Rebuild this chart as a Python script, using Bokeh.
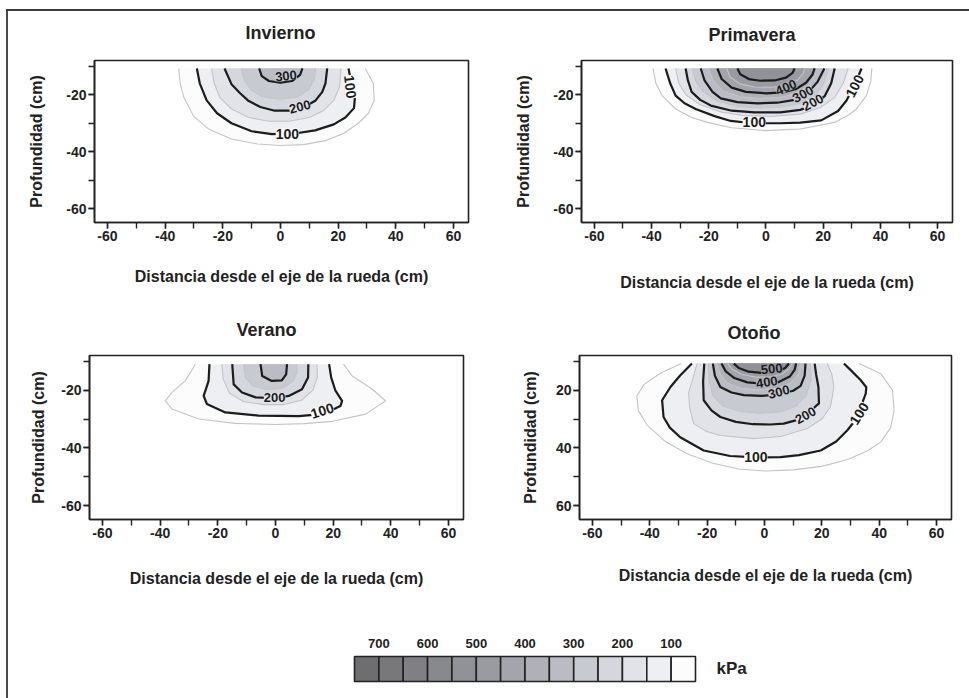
from bokeh.plotting import figure
from bokeh.models import Range1d, FixedTicker, Label, Div, Spacer, Title
from bokeh.layouts import row, column
from bokeh.embed import file_html
from bokeh.resources import INLINE
from bokeh.core.properties import value

FONT = "Liberation Sans"

# ---------------- axes ----------------
x_major = [-60, -40, -20, 0, 20, 40, 60]
x_major_text = ["-60", "-40", "-20", "0", "20", "40", "60"]
x_minor = [-60, -50, -40, -30, -20, -10, 0, 10, 20, 30, 40, 50, 60]
y_major = [-60, -40, -20]
y_major_text = ["-60", "-40", "-20"]
y_major_text_otono = ["60", "40", "20"]
y_minor = [-60, -50, -40, -30, -20, -10]
x_title = "Distancia desde el eje de la rueda (cm)"
y_title = "Profundidad (cm)"

# ---------------- pressure classes (kPa) ----------------
levels = [50, 100, 150, 200, 250, 300, 350, 400, 450, 500, 550, 600, 650, 700]
level_colors = ["#fcfcfd", "#eeeff3", "#e2e3e9", "#d5d7de", "#c8cad2", "#babcc5",
                "#afb0b8", "#a4a5ac", "#9a9ba1", "#919297", "#88898d", "#808084",
                "#78787b", "#6e6e70"]
legend_labels = ["700", "600", "500", "400", "300", "200", "100"]

# ---------------- Invierno contours ----------------
inv50_x = [-35.3, -34.8, -33.5, -30.2, -25.0, -17.0, -8.0, 0.0, 8.0, 16.0, 22.0, 27.0, 30.5, 32.5, 32.2, 29.4]
inv50_y = [-10.8, -16.0, -21.0, -27.5, -32.0, -35.5, -37.3, -37.8, -37.5, -36.0, -33.5, -30.0, -26.5, -22.0, -16.0, -10.8]
inv100_x = [-29.0, -28.0, -25.6, -22.0, -17.0, -10.0, -3.0, 5.0, 12.0, 18.5, 22.5, 25.5, 25.8, 24.8, 23.6]
inv100_y = [-10.8, -16.0, -22.0, -26.5, -30.0, -32.8, -33.8, -33.6, -32.5, -30.4, -28.0, -24.7, -21.0, -17.0, -10.8]
inv150_x = [-23.9, -23.0, -21.0, -17.0, -11.0, -4.0, 3.0, 10.0, 15.0, 18.5, 20.5, 21.0]
inv150_y = [-10.8, -16.0, -21.0, -25.0, -28.0, -29.3, -29.3, -28.0, -25.5, -22.0, -17.0, -10.8]
inv200_x = [-19.4, -17.0, -14.0, -11.3, -7.0, -2.0, 3.0, 8.0, 12.2, 14.5, 15.6, 16.2]
inv200_y = [-10.8, -16.3, -19.5, -22.0, -24.3, -25.6, -25.6, -24.5, -22.0, -19.0, -16.0, -10.8]
inv250_x = [-13.6, -12.5, -10.0, -6.0, 0.0, 6.0, 10.0, 11.8, 12.2]
inv250_y = [-10.8, -15.0, -18.5, -20.8, -21.6, -20.8, -18.0, -14.5, -10.8]
inv300_x = [-7.4, -6.5, -4.0, 0.0, 4.0, 6.8, 7.6]
inv300_y = [-10.8, -13.5, -15.2, -15.8, -15.2, -13.0, -10.8]
inv_lab_x = [2.4, 24.2, 6.7, 1.9]
inv_lab_y = [-33.6, -17.2, -24.2, -13.4]
inv_lab_t = ["100", "100", "200", "300"]
inv_lab_a = [0.0, -1.45, 0.25, 0.1]

# ---------------- Primavera contours ----------------
pri50_x = [-39.5, -38.5, -36.3, -31.6, -26.0, -20.5, -12.0, 0.0, 12.0, 24.0, 29.0, 31.6, 35.1, 36.6, 37.0]
pri50_y = [-10.8, -16.0, -20.3, -25.0, -28.0, -29.7, -31.6, -32.6, -32.0, -29.7, -27.0, -25.0, -20.3, -15.5, -10.8]
pri100_x = [-35.1, -33.5, -31.6, -28.5, -24.6, -18.0, -12.3, -5.0, 5.0, 12.0, 19.3, 25.2, 28.1, 31.0, 33.4]
pri100_y = [-10.8, -16.0, -20.3, -23.0, -25.0, -27.5, -29.2, -30.0, -30.0, -29.8, -29.0, -25.7, -22.1, -16.5, -10.8]
pri150_x = [-31.6, -30.5, -28.0, -23.0, -16.0, -8.0, 2.0, 12.0, 19.0, 24.0, 27.0, 28.7]
pri150_y = [-10.8, -16.0, -20.0, -23.5, -26.0, -27.3, -27.6, -26.8, -24.5, -21.0, -16.0, -10.8]
pri200_x = [-28.1, -27.3, -26.0, -23.0, -19.3, -12.0, -4.0, 5.0, 12.0, 17.0, 20.5, 22.8, 24.0]
pri200_y = [-10.8, -15.0, -19.0, -21.8, -23.8, -25.6, -26.2, -26.2, -25.3, -23.5, -20.5, -16.0, -10.8]
pri250_x = [-25.7, -24.7, -22.0, -17.0, -10.0, -2.0, 6.0, 12.0, 17.0, 20.0, 22.0]
pri250_y = [-10.8, -15.0, -19.0, -22.3, -24.0, -24.6, -24.3, -23.0, -20.5, -16.5, -10.8]
pri300_x = [-22.8, -21.5, -18.7, -15.8, -10.0, -3.0, 4.0, 10.0, 14.5, 18.0, 20.4]
pri300_y = [-10.8, -15.0, -19.0, -21.3, -22.6, -23.0, -22.8, -21.8, -19.5, -15.5, -10.8]
pri350_x = [-20.0, -18.5, -15.0, -9.0, -2.0, 5.0, 10.0, 14.5, 17.0, 18.0]
pri350_y = [-10.8, -15.0, -18.8, -20.7, -21.3, -21.0, -19.6, -17.0, -13.5, -10.8]
pri400_x = [-17.0, -15.5, -12.0, -7.0, 0.0, 6.0, 10.5, 14.0, 16.2, 17.0]
pri400_y = [-10.8, -14.5, -17.5, -19.0, -19.5, -19.2, -18.0, -15.8, -13.0, -10.8]
pri450_x = [-13.7, -12.5, -9.0, -4.0, 2.0, 7.0, 11.0, 13.0, 13.5]
pri450_y = [-10.8, -13.8, -16.2, -17.3, -17.4, -16.6, -14.8, -12.5, -10.8]
pri500_x = [-10.0, -9.0, -6.0, -2.0, 3.0, 7.0, 9.3, 10.0]
pri500_y = [-10.8, -12.8, -14.5, -15.1, -15.0, -14.0, -12.3, -10.8]
pri_lab_x = [-4.1, 31.0, 16.4, 12.9, 7.0]
pri_lab_y = [-29.7, -16.9, -22.7, -19.8, -17.4]
pri_lab_t = ["100", "100", "200", "300", "400"]
pri_lab_a = [0.0, 1.1, 0.5, 0.5, 0.4]

# ---------------- Verano contours ----------------
ver50_x = [-27.8, -31.3, -35.9, -38.2, -35.9, -26.6, -14.0, 0.0, 10.0, 19.7, 31.3, 38.2, 33.6, 26.6, 23.6]
ver50_y = [-11.0, -16.8, -20.8, -23.7, -26.5, -30.0, -31.5, -31.9, -31.6, -30.8, -28.3, -23.7, -19.7, -15.1, -11.0]
ver100_x = [-22.9, -23.2, -24.9, -23.8, -17.4, -5.8, 8.1, 17.0, 22.5, 23.1, 20.8, 19.3, 18.6]
ver100_y = [-11.0, -16.8, -22.0, -24.8, -27.7, -28.8, -29.0, -28.2, -25.5, -23.7, -20.2, -15.6, -11.0]
ver150_x = [-18.6, -18.2, -16.0, -11.0, -4.0, 3.0, 9.0, 13.0, 14.5, 14.4]
ver150_y = [-11.0, -16.0, -21.0, -24.0, -25.0, -25.0, -23.5, -20.0, -15.5, -11.0]
ver200_x = [-15.0, -14.5, -11.6, -6.9, -0.3, 4.6, 9.2, 11.3, 11.4]
ver200_y = [-11.0, -18.0, -20.8, -22.5, -22.8, -22.0, -19.7, -15.6, -11.0]
ver250_x = [-11.0, -10.5, -8.0, -3.0, 2.0, 6.0, 7.4, 7.4]
ver250_y = [-11.0, -15.5, -18.5, -19.8, -19.5, -17.0, -14.0, -11.0]
ver300_x = [-5.2, -4.6, -1.3, 2.2, 3.7, 4.0]
ver300_y = [-11.0, -15.1, -16.8, -16.6, -14.5, -11.0]
ver_lab_x = [-0.3, 16.2]
ver_lab_y = [-22.6, -27.1]
ver_lab_t = ["200", "100"]
ver_lab_a = [0.0, 0.3]

# ---------------- Otoño contours ----------------
oto50_x = [-29.0, -36.0, -42.0, -44.5, -44.0, -41.0, -35.0, -27.0, -18.0, -9.0, 0.0, 10.0, 20.0, 29.0, 36.0, 40.5, 44.0, 45.2, 44.6, 40.5, 33.0]
oto50_y = [-10.8, -14.0, -18.0, -22.0, -27.0, -32.0, -37.5, -42.0, -45.3, -47.3, -48.0, -47.6, -46.4, -44.0, -41.0, -38.0, -33.0, -27.0, -20.0, -14.2, -10.8]
oto100_x = [-25.3, -29.5, -32.8, -35.7, -35.2, -33.0, -29.4, -21.2, -12.0, -3.0, 5.6, 12.0, 19.6, 25.0, 28.9, 32.0, 35.3, 35.5, 33.5, 30.5, 27.7]
oto100_y = [-10.8, -15.0, -18.9, -23.5, -29.3, -33.0, -36.3, -40.9, -42.8, -43.3, -43.2, -42.5, -40.9, -37.8, -33.9, -30.0, -21.2, -19.0, -16.5, -13.5, -10.8]
oto150_x = [-23.5, -25.0, -26.5, -26.0, -24.7, -20.5, -15.4, -3.7, 6.0, 14.9, 20.0, 23.0, 24.2, 23.5, 21.9]
oto150_y = [-10.8, -16.0, -21.0, -26.5, -31.6, -34.2, -35.7, -36.8, -36.0, -33.3, -30.0, -25.8, -18.9, -14.5, -10.8]
oto200_x = [-21.0, -21.4, -21.2, -18.5, -15.4, -10.0, -4.0, 2.0, 6.7, 11.5, 14.3, 19.0, 18.8, 18.0, 17.5]
oto200_y = [-10.8, -17.0, -23.5, -27.0, -29.3, -31.0, -31.8, -31.9, -31.6, -30.3, -28.7, -24.6, -18.9, -14.5, -10.8]
oto250_x = [-19.5, -19.3, -18.0, -14.5, -8.0, -1.0, 6.0, 11.0, 14.5, 16.2, 16.0]
oto250_y = [-10.8, -17.0, -22.0, -25.5, -27.5, -28.0, -27.5, -25.5, -22.0, -16.5, -10.8]
oto300_x = [-18.0, -17.3, -15.4, -11.5, -7.2, -1.0, 5.0, 10.0, 12.6, 14.0, 14.3]
oto300_y = [-10.8, -15.0, -18.9, -20.8, -21.7, -22.0, -21.5, -20.2, -18.5, -15.0, -10.8]
oto350_x = [-16.5, -15.5, -13.0, -8.0, -2.0, 4.0, 9.0, 11.8, 12.6]
oto350_y = [-10.8, -14.5, -17.5, -19.4, -19.9, -19.4, -17.5, -14.5, -10.8]
oto400_x = [-15.0, -13.5, -10.5, -6.0, 0.0, 5.0, 8.8, 10.5, 11.0]
oto400_y = [-10.8, -13.5, -15.8, -17.3, -17.8, -17.2, -15.3, -13.0, -10.8]
oto450_x = [-12.8, -11.3, -8.0, -3.0, 2.0, 6.0, 8.5, 9.6]
oto450_y = [-10.8, -12.8, -14.5, -15.5, -15.5, -14.4, -12.6, -10.8]
oto500_x = [-10.7, -9.0, -5.5, -1.0, 4.0, 7.2, 8.5]
oto500_y = [-10.8, -12.3, -13.6, -14.0, -13.6, -12.3, -10.8]
oto_lab_x = [-3.0, 33.0, 14.3, 5.0, 0.8, 2.5]
oto_lab_y = [-43.2, -28.1, -28.7, -20.6, -17.2, -12.6]
oto_lab_t = ["100", "100", "200", "300", "400", "500"]
oto_lab_a = [0.0, 1.0, 0.5, 0.25, 0.15, 0.1]

FILL = dict(zip(levels, level_colors))

inv = {50: (inv50_x, inv50_y), 100: (inv100_x, inv100_y), 150: (inv150_x, inv150_y),
       200: (inv200_x, inv200_y), 250: (inv250_x, inv250_y), 300: (inv300_x, inv300_y)}
pri = {50: (pri50_x, pri50_y), 100: (pri100_x, pri100_y), 150: (pri150_x, pri150_y),
       200: (pri200_x, pri200_y), 250: (pri250_x, pri250_y), 300: (pri300_x, pri300_y),
       350: (pri350_x, pri350_y), 400: (pri400_x, pri400_y), 450: (pri450_x, pri450_y),
       500: (pri500_x, pri500_y)}
ver = {50: (ver50_x, ver50_y), 100: (ver100_x, ver100_y), 150: (ver150_x, ver150_y),
       200: (ver200_x, ver200_y), 250: (ver250_x, ver250_y), 300: (ver300_x, ver300_y)}
oto = {50: (oto50_x, oto50_y), 100: (oto100_x, oto100_y), 150: (oto150_x, oto150_y),
       200: (oto200_x, oto200_y), 250: (oto250_x, oto250_y), 300: (oto300_x, oto300_y),
       350: (oto350_x, oto350_y), 400: (oto400_x, oto400_y), 450: (oto450_x, oto450_y),
       500: (oto500_x, oto500_y)}


def panel(title, cont, labx, laby, labt, laba, W, H, bl, br, bt, bb,
          t_off, t_gap, xstand, ystand, ytext):
    p = figure(width=W, height=H, x_range=Range1d(-64.5, 65.2), y_range=Range1d(-64.8, -8.0),
               output_backend="svg", toolbar_location=None,
               min_border_left=bl, min_border_right=br, min_border_top=bt, min_border_bottom=bb,
               background_fill_color="white", border_fill_color="white",
               outline_line_color="#222222", outline_line_width=1.6)
    p.grid.visible = False
    # invisible spacer title (nearest to the frame) pushes the real title upwards
    p.add_layout(Title(text=" ", text_font_size=f"{t_gap}px", standoff=0), "above")
    p.add_layout(Title(text=title, align="left", offset=t_off, text_font=FONT,
                       text_font_size="18px", text_font_style="bold",
                       text_color="#222222"), "above")

    for lev in sorted(cont):
        xs, ys = cont[lev]
        p.patch(xs, ys, fill_color=FILL[lev], line_color=None)
    for lev in sorted(cont):
        xs, ys = cont[lev]
        if lev % 100 == 0:
            p.line(xs, ys, line_color="#1c1c1c", line_width=2.2, line_join="round")
        else:
            p.line(xs, ys, line_color="#c2c4c8", line_width=1.1, line_join="round")
    for lx, ly, lt, la in zip(labx, laby, labt, laba):
        lev = int(lt)
        p.add_layout(Label(x=lx, y=ly, text=lt, angle=la, text_align="center",
                           text_baseline="middle", text_font=FONT,
                           text_font_size="14px" if lev == 100 else "13px",
                           text_font_style="bold", text_color="#1c1c1c",
                           background_fill_color=FILL[lev - 50]))

    p.xaxis.ticker = FixedTicker(ticks=x_major, minor_ticks=x_minor)
    p.yaxis.ticker = FixedTicker(ticks=y_major, minor_ticks=y_minor)
    p.xaxis.major_label_overrides = dict(zip(x_major, x_major_text))
    p.yaxis.major_label_overrides = dict(zip(y_major, ytext))
    p.xaxis.axis_label = x_title
    p.yaxis.axis_label = y_title
    for ax in (p.xaxis[0], p.yaxis[0]):
        ax.major_label_text_font = FONT
        ax.major_label_text_font_size = "14px"
        ax.major_label_text_font_style = "bold"
        ax.major_label_text_color = "#222222"
        ax.axis_label_text_font = FONT
        ax.axis_label_text_font_size = "16px"
        ax.axis_label_text_font_style = "bold"
        ax.axis_label_text_color = "#222222"
        ax.major_tick_in = 0
        ax.major_tick_out = 6
        ax.minor_tick_in = 0
        ax.minor_tick_out = 6
        ax.axis_line_width = 1.6
        ax.axis_line_color = "#222222"
        ax.major_tick_line_color = "#222222"
        ax.minor_tick_line_color = "#222222"
        ax.major_tick_line_width = 1.4
        ax.minor_tick_line_width = 1.4
        ax.major_label_standoff = 2
    p.xaxis.axis_label_standoff = xstand
    p.yaxis.axis_label_standoff = ystand
    return p


f1 = panel("Invierno", inv, inv_lab_x, inv_lab_y, inv_lab_t, inv_lab_a,
           472, 289, 86, 12, 49, 77, 151, 10, 24, 18, y_major_text)
f2 = panel("Primavera", pri, pri_lab_x, pri_lab_y, pri_lab_t, pri_lab_a,
           489, 289, 101, 17, 47, 78, 127, 8, 30, 18, y_major_text)
f3 = panel("Verano", ver, ver_lab_x, ver_lab_y, ver_lab_t, ver_lab_a,
           472, 320, 81, 17, 54, 101, 147, 8, 29, 11, y_major_text)
f4 = panel("Otoño", oto, oto_lab_x, oto_lab_y, oto_lab_t, oto_lab_a,
           489, 320, 99, 18, 55, 100, 148, 6, 26, 14, y_major_text_otono)

# ---------------- legend strip ----------------
leg = figure(width=961, height=78, x_range=Range1d(8, 969), y_range=Range1d(698, 620),
             output_backend="svg", toolbar_location=None, min_border=0,
             x_axis_location=None, y_axis_location=None, outline_line_color=None,
             background_fill_color="white", border_fill_color="white")
leg.grid.visible = False
box_levels = levels[::-1]
bx0, bx1 = 354.0, 695.0
bw = (bx1 - bx0) / len(box_levels)
lefts = [bx0 + i * bw for i in range(len(box_levels))]
rights = [l + bw for l in lefts]
leg.quad(left=lefts, right=rights, top=[656] * len(lefts), bottom=[681] * len(lefts),
         fill_color=[FILL[v] for v in box_levels], line_color="#222222", line_width=1.6)
lab_x = [bx0 + (2 * i + 1) * bw for i in range(len(legend_labels))]
leg.text(x=lab_x, y=[643] * len(lab_x), text=legend_labels, text_font=value(FONT),
         text_font_size="13px", text_font_style="bold", text_color="#222222",
         text_align="center", text_baseline="middle")
leg.text(x=[716], y=[668], text=["kPa"], text_font=value(FONT), text_font_size="17px",
         text_font_style="bold", text_color="#222222", text_align="left",
         text_baseline="middle")

content = column(row(f1, f2, spacing=0), row(f3, f4, spacing=0), leg, spacing=0)
top_line = Div(text="", width=963, height=2, margin=(0, 0, 0, 0),
               styles={"background-color": "#3a3a3a"})
left_line = Div(text="", width=2, height=687, margin=(0, 0, 0, 0),
                styles={"background-color": "#4a4a4a"})
layout = column(Spacer(width=969, height=9, margin=(0, 0, 0, 0)),
                row(Spacer(width=6, height=689, margin=(0, 0, 0, 0)),
                    column(top_line, row(left_line, content, spacing=0), spacing=0),
                    spacing=0),
                spacing=0)

open("out.html", "w").write(file_html(layout, INLINE))
